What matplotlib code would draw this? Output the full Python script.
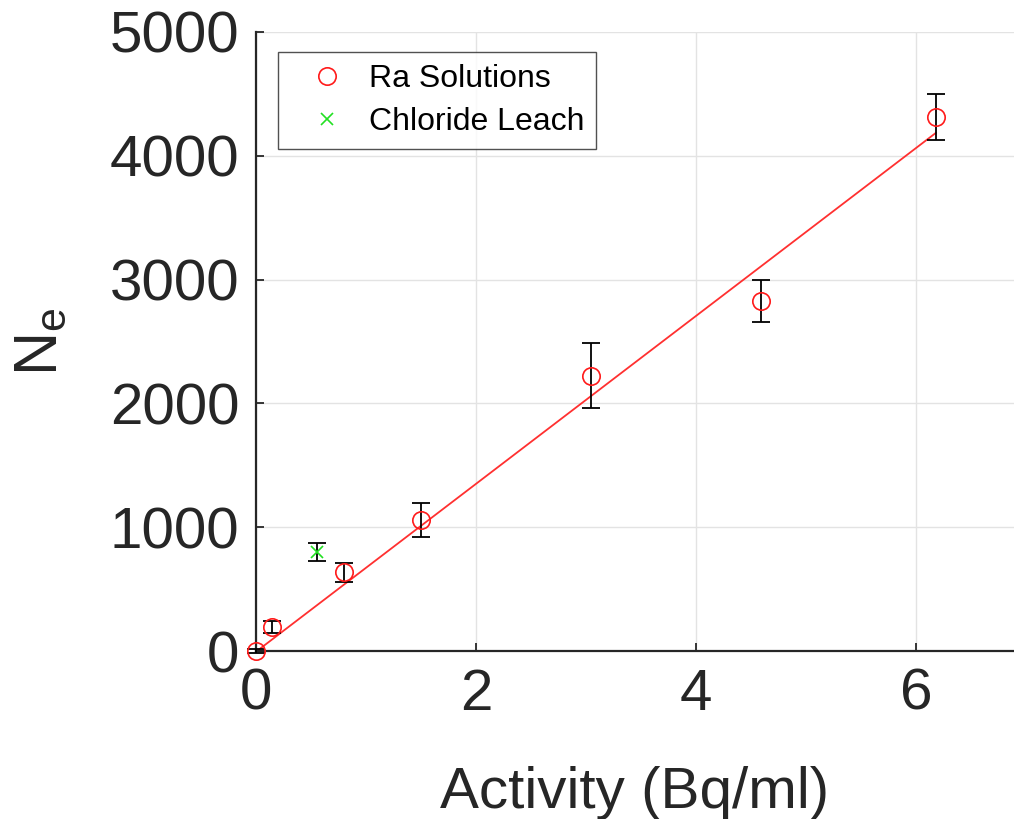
import matplotlib
matplotlib.use("Agg")
import matplotlib.pyplot as plt
import numpy as np

plt.rcParams["font.family"] = ["Liberation Sans", "DejaVu Sans"]
plt.rcParams["mathtext.fontset"] = "custom"
plt.rcParams["mathtext.rm"] = "Liberation Sans"
plt.rcParams["mathtext.it"] = "Liberation Sans"

# Ra standard solutions
ra_activity = [0.0, 0.145, 0.80, 1.50, 3.045, 4.59, 6.18]
ra_counts = [0, 195, 637, 1055, 2225, 2825, 4315]
ra_err = [15, 47, 75, 137, 262, 170, 184]

# chloride leach sample
cl_activity = [0.555]
cl_counts = [798]
cl_err = [72]

# linear calibration fit
fit_slope = 678.0
fit_intercept = -5.0

fig = plt.figure(figsize=(10.14, 8.19), dpi=100)
ax = fig.add_axes([0.2525, 0.205, 0.7475, 0.756])

for xs, ys, es in [(ra_activity, ra_counts, ra_err), (cl_activity, cl_counts, cl_err)]:
    eb = ax.errorbar(xs, ys, yerr=es, fmt="none", ecolor="black",
                     elinewidth=1.3, capsize=6.5, capthick=1.3, zorder=3)
    for art in eb.lines[1] + eb.lines[2]:
        art.set_clip_on(False)

ax.plot(ra_activity, ra_counts, "o", mfc="none", mec="#ff1a1a", ms=12.5, mew=1.2,
        linestyle="none", label="Ra Solutions", zorder=4, clip_on=False)
ax.plot(cl_activity, cl_counts, "x", color="#22e022", ms=9, mew=1.2,
        linestyle="none", label="Chloride Leach", zorder=4)

xf = np.array([ra_activity[0], ra_activity[-1]])
ax.plot(xf, fit_slope * xf + fit_intercept, "-", color="#ff3030", lw=1.3, zorder=2)

ax.set_xlim(0, 6.89)
ax.set_ylim(0, 5000)
ax.set_xticks([0, 2, 4, 6])
ax.set_yticks([0, 1000, 2000, 3000, 4000, 5000])
ax.grid(True, color="#e3e3e3", lw=1.0)
ax.set_axisbelow(True)

for side in ["top", "right"]:
    ax.spines[side].set_visible(False)
for side in ["left", "bottom"]:
    ax.spines[side].set_linewidth(1.6)
    ax.spines[side].set_color("#262626")

ax.tick_params(direction="in", length=6, width=1.3, colors="#262626",
               labelsize=42, pad=12)

ax.set_xlabel("Activity (Bq/ml)", fontsize=42, color="#262626", labelpad=32)
ax.set_ylabel(r"$\mathregular{N_e}$", fontsize=44, color="#262626", labelpad=29)

leg = ax.legend(loc="upper left", bbox_to_anchor=(0.029, 0.968), fontsize=23,
                frameon=True, fancybox=False, edgecolor="#262626",
                handletextpad=0.16, borderpad=0.38, labelspacing=0.42,
                handlelength=2.3, borderaxespad=0)
leg.get_frame().set_linewidth(1.0)

fig.savefig("out.png", dpi=100)
